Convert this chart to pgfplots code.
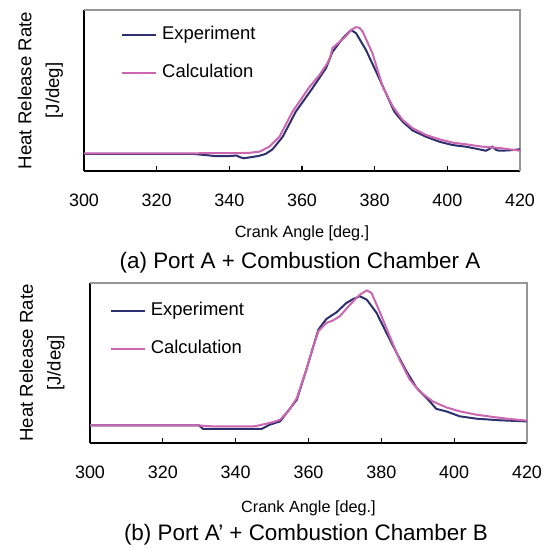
\documentclass[border=0pt]{standalone}
\usepackage{pgfplots}
\pgfplotsset{compat=1.18}
\usepackage{fontspec}
\setmainfont{Liberation Sans}
\definecolor{expc}{RGB}{46,47,110}
\definecolor{calcc}{RGB}{204,102,176}
\definecolor{framegray}{RGB}{150,150,150}
\pgfplotsset{
  hrr/.style={
    scale only axis, xmin=300, xmax=420, ymin=0, ymax=100,
    xtick={300,320,...,420}, ytick=\empty,
    axis x line*=bottom, axis y line*=left,
    axis line style={-, line width=1.7bp, black},
    tick align=inside, major tick length=5bp,
    xtick style={line width=1.3bp, black},
    /pgf/number format/assume math mode=true,
    /pgf/number format/1000 sep={},
    xticklabel style={font=\fontsize{18}{21}\selectfont, yshift=-19bp},
    ylabel={Heat Release Rate\\{[J/deg]}},
    ylabel style={align=center, font=\fontsize{18.7}{28}\selectfont, anchor=center},
    xlabel={Crank Angle [deg.]},
    xlabel style={font=\fontsize{16.3}{19}\selectfont, anchor=center},
    clip=false,
    legend cell align=left,
    legend image code/.code={\draw[#1] (0bp,0bp) -- (34bp,0bp);},
    legend style={draw=none, fill=none, font=\fontsize{18.5}{21}\selectfont,
      row sep=21bp, anchor=north west,
      nodes={inner sep=0pt, text height=13bp, text depth=4bp},
      /tikz/every odd column/.append style={column sep=5bp}},
    expline/.style={color=expc, line width=2bp},
    calcline/.style={color=calcc, line width=2bp},
  }
}
\begin{document}
\begin{tikzpicture}
\useasboundingbox (0,0) rectangle (548bp,549bp);
% ---------- (a) ----------
\begin{axis}[hrr, at={(84bp,378bp)}, anchor=south west,
  width=436bp, height=161bp,
  xlabel style={at={(axis description cs:0.5,-0.385)}},
  ylabel style={at={(axis description cs:-0.1,0.5)}},
  legend style={at={(axis description cs:0.078,0.91)}}]
\draw[framegray, line width=1.2bp] (rel axis cs:0,1) -- (rel axis cs:1,1) -- (rel axis cs:1,0);
\addplot[expline] coordinates {
(300,10.6) (330,10.6) (333,10.0) (336,9.3) (340,9.3) (342,9.6) (343,8.5) (344,7.9)
(346,8.6) (348,9.3) (350,10.6) (351.9,13.5) (354.7,21.3) (358.3,36.9) (362.9,51.5)
(366.6,63.9) (368.4,74) (371.2,82.4) (373.5,87.6) (374.9,85.5) (377.6,75.2)
(380.4,61.7) (382.7,50.3) (385.4,36.9) (387.7,30.6) (390.5,25.1) (394.1,21.3)
(397.8,18.2) (401.5,16.1) (405.1,15.1) (408.7,13.5) (410.6,12.6) (411.5,13.6)
(412.4,15.1) (413.5,13.0) (414.3,12.6) (417,12.8) (420,13.5)};
\addlegendentry{Experiment}
\addplot[calcline] coordinates {
(300,11.0) (330,11.0) (345,11.2) (348.3,12.0) (351,15.1) (353.8,21.3) (357.4,36.9)
(359.3,43.1) (362,52.0) (364.8,59.6) (367,67) (367.8,71) (368.4,76.5) (370,79.5)
(372,83.5) (373.5,87.5) (374.8,89.3) (375.8,89.0) (376.7,86.5) (379.4,73.1)
(382.2,52.4) (385,40.0) (387.7,31.7) (390.5,26.5) (394.1,22.4) (397.8,19.7)
(401.5,17.6) (405.1,16.6) (409.7,15.1) (414.3,14.3) (420,12.6)};
\addlegendentry{Calculation}
\end{axis}
\node[font=\fontsize{22.5}{26}\selectfont] at (300bp,286bp) {(a) Port A + Combustion Chamber A};
% ---------- (b) ----------
\begin{axis}[hrr, at={(90bp,106bp)}, anchor=south west,
  width=437bp, height=160bp,
  xlabel style={at={(axis description cs:0.5,-0.41)}},
  ylabel style={at={(axis description cs:-0.11,0.5)}},
  legend style={at={(axis description cs:0.038,0.89)}}]
\draw[framegray, line width=1.2bp] (rel axis cs:0,1) -- (rel axis cs:1,1) -- (rel axis cs:1,0);
\addplot[expline] coordinates {
(300,11.0) (330,11.0) (331,8.8) (347.1,8.75) (349.4,11.5) (352.2,13.5) (356.8,27.1)
(359.4,45.8) (362.7,70.8) (364.9,77.5) (367.7,81.7) (370.4,87.5) (372.3,90)
(374.1,91.7) (376,89.6) (378.7,81.3) (381.4,68.8) (384.2,56.3) (386.9,44.8)
(389.7,34.4) (393.3,26.0) (395.1,21.3) (397.8,19.8) (401.5,16.7) (406.1,15.2)
(412.5,14.2) (420,13.5)};
\addlegendentry{Experiment}
\addplot[calcline] coordinates {
(300,11.0) (330,11.0) (332,10.6) (334,10.4) (344.8,10.4) (346,10.8) (348.5,12.1)
(350.5,13.2) (352.2,14.6) (354.5,20) (356.8,28.1) (359.4,45.8) (361,58) (362.7,69.8)
(364.9,75.0) (366.8,76.7) (368.6,79.2) (371.4,86.5) (374.1,92.7) (376,95.4)
(377.3,93.8) (379.5,82.3) (382.3,66.7) (385,52.1) (387.8,39.6) (390.5,32.3)
(394.1,26.0) (397.8,22.3) (401.5,19.8) (406.1,17.7) (410.6,16.3) (415.2,15.0)
(420,14.0)};
\addlegendentry{Calculation}
\end{axis}
\node[font=\fontsize{22.5}{26}\selectfont] at (306bp,14bp) {(b) Port A’ + Combustion Chamber B};
\end{tikzpicture}
\end{document}
